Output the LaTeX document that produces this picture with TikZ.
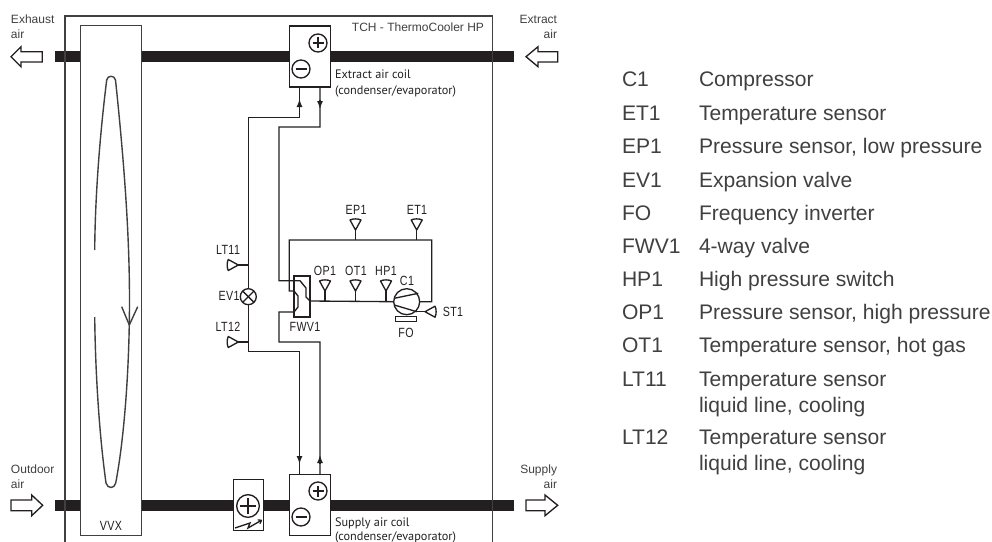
\documentclass[tikz,border=0pt]{standalone}
\usepackage{fontspec}
\setmainfont{Liberation Sans}
\newfontfamily\isofont[FakeStretch=0.8,LetterSpace=3]{Liberation Sans}
\newfontfamily\coilfont{PT Sans}
\usetikzlibrary{calc,positioning,arrows.meta}
\definecolor{th_ink}{HTML}{231F20}
\definecolor{th_grey}{HTML}{404040}
\tikzset{
	th_base/.style={inner sep=0pt, outer sep=0pt, text=th_ink},
	th_line/.style={draw=th_ink, line width=1pt},
	th_frame/.style={draw=th_grey, line width=1.05pt},
	th_duct/.style={draw=th_ink, line width=8.25pt},
	th_box/.style={th_base, th_line, fill=white, rectangle},
	th_circle/.style={th_base, th_line, fill=white, circle},
	th_iso/.style={th_base, font=\isofont\fontsize{10}{12}\selectfont},
	th_air/.style={th_base, font=\fontsize{9}{10}\selectfont, text=th_grey},
	th_coil/.style={th_base, anchor=base west, font=\coilfont\fontsize{9.2}{10}\selectfont},
	th_key/.style={th_base, anchor=base west, font=\fontsize{15.8}{18}\selectfont, text=th_grey},
	th_bigarrow/.style={draw=th_ink, line width=1pt, fill=white},
	th_tip/.style={-{Latex[length=6pt,width=4.5pt]}},
	th_sensor/.pic={
		\draw[th_line, fill=white, line join=round] (0,0) -- (-5.5,-10) .. controls (-3,-11.5) and (3,-11.5) .. (5.5,-10) -- cycle;
		\draw[th_line] (0,0) -- (0,10);
	}
}
\begin{document}
\begin{tikzpicture}[x=0.75pt,y=-0.75pt]
	\useasboundingbox (0,0) rectangle (992,542);

	% air ducts
	\coordinate (top_start) at (55,56.5);
	\coordinate (top_end) at (514,56.5);
	\coordinate (bot_start) at (55,505.5);
	\coordinate (bot_end) at (514,505.5);
	\path [th_duct] (top_start) -- (top_end);
	\path [th_duct] (bot_start) -- (bot_end);

	% casing
	\coordinate (case_a) at (65,542);
	\coordinate (case_b) at (65,16);
	\coordinate (case_c) at (492.7,16);
	\coordinate (case_d) at (492.7,542);
	\path [th_frame] (case_a) -- (case_b) -- (case_c) -- (case_d);
	\node [th_air, anchor=base east] (title) at (484,32) {TCH - ThermoCooler HP};

	% heat exchanger
	\node [th_box, th_frame, minimum width=45.75pt, minimum height=382.5pt] (vvx) at (111,280.5) {};
	\node [th_iso] (vvx_label) at (111,526) {VVX};
	\draw [th_frame] (94.7,250) .. controls (95,210) and (98,150) .. (106.7,80) .. controls (107.5,75) and (114.5,75) .. (115.5,80) .. controls (125,170) and (129.5,240) .. (129.5,300) .. controls (129.5,370) and (124,440) .. (115.7,483) .. controls (114.5,489) and (107.5,489) .. (106,483) .. controls (100,440) and (95.5,380) .. (94.7,317);
	\draw [th_frame] (121.7,306.7) -- (129.3,325) -- (137.7,306.7);

	% coils
	\node [th_box, minimum width=30.75pt, minimum height=45.75pt] (ext_coil) at (309.7,56.5) {};
	\node [th_box, minimum width=30.75pt, minimum height=46pt] (sup_coil) at (309.7,505) {};
	\node [th_box, minimum width=22.5pt, minimum height=38.25pt] (heater) at (248.5,505) {};
	\foreach \cname/\x/\y in {ext_plus/318/43, ext_minus/301/69, sup_plus/318/491, sup_minus/301/517} {
		\node [th_circle, minimum size=13.5pt] (\cname) at (\x,\y) {};
		\draw [th_line] ($(\cname)+(-5.5,0)$) -- ($(\cname)+(5.5,0)$);
	}
	\draw [th_line] ($(ext_plus)+(0,-5.5)$) -- ($(ext_plus)+(0,5.5)$);
	\draw [th_line] ($(sup_plus)+(0,-5.5)$) -- ($(sup_plus)+(0,5.5)$);
	\node [th_circle, minimum size=17pt] (heat_plus) at (248,506) {};
	\draw [th_line] ($(heat_plus)+(-8,0)$) -- ($(heat_plus)+(8,0)$);
	\draw [th_line] ($(heat_plus)+(0,-8)$) -- ($(heat_plus)+(0,8)$);
	\draw [th_line, -{To[length=3pt,width=4pt]}] (235,528) -- (250,523) -- (248,528) -- (262,520);
	\node [th_coil] (ext_text_a) at (335,79) {Extract air coil};
	\node [th_coil] (ext_text_b) at (335,94) {(condenser/evaporator)};
	\node [th_coil] (sup_text_a) at (335,526) {Supply air coil};
	\node [th_coil] (sup_text_b) at (335,540) {(condenser/evaporator)};

	% outside air arrows
	\draw [th_bigarrow] (11,56.7) -- (21,46.7) -- (21,51.7) -- (42.3,51.7) -- (42.3,62) -- (21,62) -- (21,66.7) -- cycle;
	\draw [th_bigarrow] (526,56.7) -- (538,46.7) -- (538,51.7) -- (557.7,51.7) -- (557.7,62) -- (538,62) -- (538,66.7) -- cycle;
	\draw [th_bigarrow] (42.7,505.3) -- (31.7,495) -- (31.7,500) -- (11,500) -- (11,510.7) -- (31.7,510.7) -- (31.7,515.7) -- cycle;
	\draw [th_bigarrow] (557.7,505.3) -- (545,495) -- (545,500) -- (526,500) -- (526,510.7) -- (545,510.7) -- (545,515.7) -- cycle;
	\node [th_air, anchor=base west] (exh_a) at (11,24) {Exhaust};
	\node [th_air, anchor=base west] (exh_b) at (11,39) {air};
	\node [th_air, anchor=base east] (ext_a) at (557,24) {Extract};
	\node [th_air, anchor=base east] (ext_b) at (557,39) {air};
	\node [th_air, anchor=base west] (out_a) at (11,473) {Outdoor};
	\node [th_air, anchor=base west] (out_b) at (11,488) {air};
	\node [th_air, anchor=base east] (sup_a) at (557,473) {Supply};
	\node [th_air, anchor=base east] (sup_b) at (557,488) {air};

	% refrigerant pipes
	\node [th_circle, minimum size=12pt] (ev1) at (248.3,296.7) {};
	\draw [th_line] (ev1.north west) -- (ev1.south east);
	\draw [th_line] (ev1.north east) -- (ev1.south west);
	\node [th_box, minimum width=12pt, minimum height=30.75pt] (fwv1) at (302,296.5) {};
	\node [th_circle, minimum size=19.5pt] (c1) at (406.7,301.7) {};
	\draw [th_line] (394.3,298.3) -- (418.3,293.3);
	\draw [th_line] (394.3,305) -- (416.7,311.7);
	\coordinate (ext_in) at (299.5,87);
	\coordinate (ext_out) at (320,87);
	\coordinate (sup_in) at (299.5,474);
	\coordinate (sup_out) at (320,474);
	\draw [th_line] (ext_in) -- (299.5,117.5) -- (248.3,117.5) -- (ev1);
	\draw [th_line] (ev1) -- (248.3,351.7) -- (299.5,351.7) -- (sup_in);
	\draw [th_line] (ext_out) -- (320,127) -- (279,127) -- (279,280.7) -- (300,280.7) -- (306,288) -- (306,297) -- (310,301) -- (c1.west);
	\draw [th_line] (sup_out) -- (320,342) -- (279,342) -- (279,312) -- (294,312) -- (298,307) -- (298,296) -- (294,291) -- (289.3,291) -- (289.3,240) -- (431.7,240) -- (431.7,301.7) -- (c1.east);
	\draw [th_line, th_tip] (299.5,108) -- (299.5,99);
	\draw [th_line, th_tip] (320,100) -- (320,109);
	\draw [th_line, th_tip] (299.5,455) -- (299.5,464);
	\draw [th_line, th_tip] (320,464) -- (320,455);

	% sensors
	\foreach \x/\y in {355.5/230, 416.7/230, 325/291, 355.5/291, 386/291}
		\pic at (\x,\y) {th_sensor};
	\pic [rotate=90] at (238.3,265) {th_sensor};
	\pic [rotate=90] at (238.3,342) {th_sensor};
	\pic [rotate=-90] at (425,311.7) {th_sensor};
	\node [th_box, minimum width=15.75pt, minimum height=3.75pt] (fo) at (406.2,319.2) {};
	\foreach \lname/\x/\y/\ltext in {ep1/356/210/EP1, et1/417/210/ET1, op1/325/271/OP1, ot1/356/271/OT1, hp1/386/271/HP1, c1_label/407/281/C1, st1/453/312/ST1, fo_label/406/333/FO, fwv1_label/305/327/FWV1, ev1_label/229/296/EV1, lt11/228/250/LT11, lt12/228/327/LT12}
		\node [th_iso] (\lname) at (\x,\y) {\ltext};

	% key
	\foreach \y/\kname/\ktext in {87/C1/Compressor, 120/ET1/Temperature sensor, 153/EP1/{Pressure sensor, low pressure}, 187/EV1/Expansion valve, 220/FO/Frequency inverter, 253/FWV1/4-way valve, 286/HP1/High pressure switch, 319/OP1/{Pressure sensor, high pressure}, 352/OT1/{Temperature sensor, hot gas}, 386/LT11/Temperature sensor, 444/LT12/Temperature sensor} {
		\node [th_key] (key_\kname) at (622,\y) {\kname};
		\node [th_key] (txt_\kname) at (699,\y) {\ktext};
	}
	\node [th_key] (txt_lt11_b) at (699,412) {liquid line, cooling};
	\node [th_key] (txt_lt12_b) at (699,470) {liquid line, cooling};
\end{tikzpicture}
\end{document}
